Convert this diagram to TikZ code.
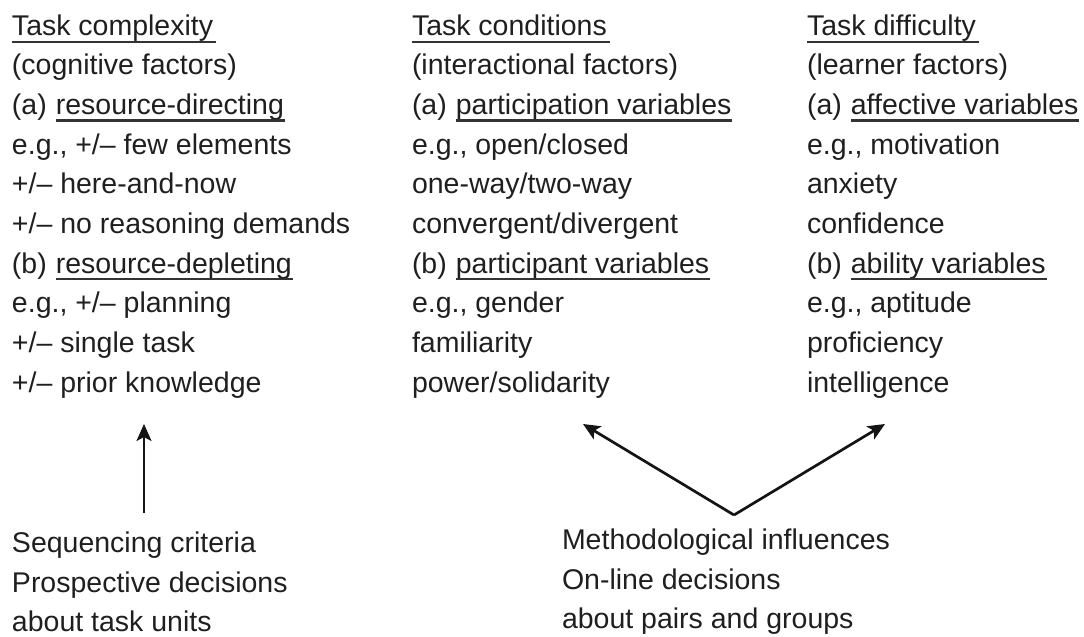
\documentclass[tikz,border=0pt]{standalone}
\usepackage{fontspec}
\setmainfont{Liberation Sans}
\usetikzlibrary{arrows.meta}
\begin{document}
\begin{tikzpicture}[x=1pt,y=-1pt,
  txt/.style={anchor=base west, inner sep=0pt, outer sep=0pt, font=\fontsize{28.5}{34}\selectfont, text=black!88},
  ul/.style={draw=black!80, line width=2.3pt},
  arr/.style={draw=black!92, line width=2.7pt, -{Stealth[length=17pt,width=15pt,inset=4pt]}}]
\useasboundingbox (0,0) rectangle (1084,637);
% ---------- left column ----------
\node[txt] (L1) at (12,35) {Task complexity};
\node[txt] (L2) at (12,74.7) {(cognitive factors)};
\node[txt] (L3a) at (12,114.4) {(a)};
\node[txt] (L3b) at ([xshift=9pt]L3a.base east) {resource-directing};
\node[txt] (L4) at (12,154.1) {e.g., +/– few elements};
\node[txt] (L5) at (12,193.8) {+/– here-and-now};
\node[txt] (L6) at (12,233.5) {+/– no reasoning demands};
\node[txt] (L7a) at (12,273.2) {(b)};
\node[txt] (L7b) at ([xshift=9pt]L7a.base east) {resource-depleting};
\node[txt] (L8) at (12,312.9) {e.g., +/– planning};
\node[txt] (L9) at (12,352.6) {+/– single task};
\node[txt] (L10) at (12,392.3) {+/– prior knowledge};
% ---------- middle column ----------
\node[txt] (M1) at (412,35) {Task conditions};
\node[txt] (M2) at (412,74.7) {(interactional factors)};
\node[txt] (M3a) at (412,114.4) {(a)};
\node[txt] (M3b) at ([xshift=9pt]M3a.base east) {participation variables};
\node[txt] (M4) at (412,154.1) {e.g., open/closed};
\node[txt] (M5) at (412,193.8) {one-way/two-way};
\node[txt] (M6) at (412,233.5) {convergent/divergent};
\node[txt] (M7a) at (412,273.2) {(b)};
\node[txt] (M7b) at ([xshift=9pt]M7a.base east) {participant variables};
\node[txt] (M8) at (412,312.9) {e.g., gender};
\node[txt] (M9) at (412,352.6) {familiarity};
\node[txt] (M10) at (412,392.3) {power/solidarity};
% ---------- right column ----------
\node[txt] (R1) at (807,35) {Task difficulty};
\node[txt] (R2) at (807,74.7) {(learner factors)};
\node[txt] (R3a) at (807,114.4) {(a)};
\node[txt] (R3b) at ([xshift=9pt]R3a.base east) {affective variables};
\node[txt] (R4) at (807,154.1) {e.g., motivation};
\node[txt] (R5) at (807,193.8) {anxiety};
\node[txt] (R6) at (807,233.5) {confidence};
\node[txt] (R7a) at (807,273.2) {(b)};
\node[txt] (R7b) at ([xshift=9pt]R7a.base east) {ability variables};
\node[txt] (R8) at (807,312.9) {e.g., aptitude};
\node[txt] (R9) at (807,352.6) {proficiency};
\node[txt] (R10) at (807,392.3) {intelligence};
% ---------- underlines ----------
\foreach \n in {L1,M1,R1}
  \draw[ul] ([yshift=-7pt]\n.base west) -- ([yshift=-7pt,xshift=3pt]\n.base east);
\foreach \n in {L3b,L7b,M3b,M7b,R3b,R7b}
  \draw[ul] ([yshift=-6pt]\n.base west) -- ([yshift=-6pt,xshift=1pt]\n.base east);
% ---------- bottom texts ----------
\node[txt] (B1) at (12,552) {Sequencing criteria};
\node[txt] (B2) at (12,592) {Prospective decisions};
\node[txt] (B3) at (12,631) {about task units};
\node[txt] (C1) at (562,549) {Methodological influences};
\node[txt] (C2) at (562,589) {On-line decisions};
\node[txt] (C3) at (562,628) {about pairs and groups};
% ---------- arrows ----------
\coordinate (s1) at (144,513);
\coordinate (e1) at (144,424);
\coordinate (apex) at (734,515);
\coordinate (tl) at (583,424);
\coordinate (tr) at (885,424);
\draw[arr] (s1) -- (e1);
\draw[arr] (apex) -- (tl);
\draw[arr] (apex) -- (tr);
\end{tikzpicture}
\end{document}
